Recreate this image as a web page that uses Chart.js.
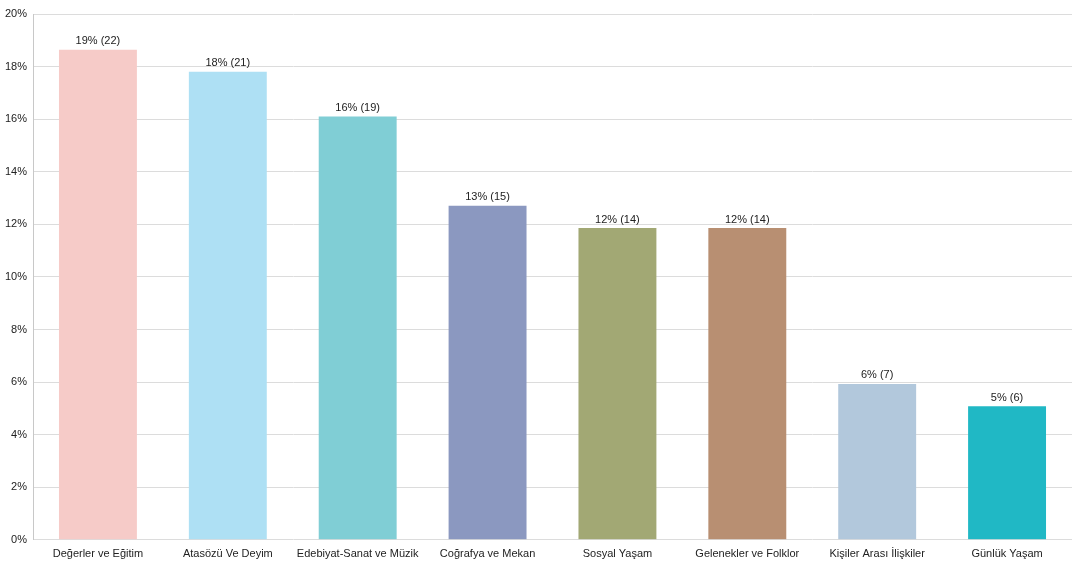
<!DOCTYPE html>
<html>
<head>
<meta charset="utf-8">
<script src="https://cdn.jsdelivr.net/npm/chart.js@4/dist/chart.umd.min.js"></script>
<style>
  html, body { margin: 0; padding: 0; background: #fff; }
  #wrap { width: 1077px; height: 571px; }
</style>
</head>
<body>
<div id="wrap"><canvas id="chart"></canvas></div>
<script>
// Data
const categories = ['Değerler ve Eğitim', 'Atasözü Ve Deyim', 'Edebiyat-Sanat ve Müzik', 'Coğrafya ve Mekan',
    'Sosyal Yaşam', 'Gelenekler ve Folklor', 'Kişiler Arası İlişkiler', 'Günlük Yaşam'];
const percents = [18.64, 17.80, 16.10, 12.71, 11.86, 11.86, 5.93, 5.08];
const counts = [22, 21, 19, 15, 14, 14, 7, 6];
const pctLabels = ['19%', '18%', '16%', '13%', '12%', '12%', '6%', '5%'];
const barColors = ['#F6CBC8', '#AEE0F4', '#80CED5', '#8B98C0', '#A2A874', '#B88F72', '#B2C8DC', '#20B8C5'];

// Value labels over each bar
const valueLabels = {
    id: 'valueLabels',
    afterDatasetsDraw(chart) {
        const ctx = chart.ctx;
        const meta = chart.getDatasetMeta(0);
        ctx.save();
        ctx.font = '11px "Liberation Sans", Arial, sans-serif';
        ctx.fillStyle = '#222';
        ctx.textAlign = 'center';
        ctx.textBaseline = 'bottom';
        meta.data.forEach((bar, i) => {
            ctx.fillText(`${pctLabels[i]} (${counts[i]})`, bar.x, bar.y - 3);
        });
        ctx.restore();
    }
};

Chart.defaults.font.family = '"Liberation Sans", Arial, sans-serif';
Chart.defaults.font.size = 11;
Chart.defaults.color = '#222';

new Chart(document.getElementById('chart'), {
    type: 'bar',
    data: {
        labels: categories,
        datasets: [{
            data: percents,
            backgroundColor: barColors,
            categoryPercentage: 1,
            barPercentage: 0.6
        }]
    },
    options: {
        responsive: true,
        maintainAspectRatio: false,
        animation: false,
        layout: { padding: { top: 14, right: 5, bottom: 10, left: 0 } },
        plugins: { legend: { display: false }, tooltip: { enabled: false } },
        scales: {
            x: {
                grid: { display: false },
                border: { display: false },
                ticks: { padding: 0, maxRotation: 0, autoSkip: false }
            },
            y: {
                min: 0,
                max: 20,
                afterFit(axis) { axis.width = 33; },
                ticks: { stepSize: 2, callback: v => v + '%', padding: 6 },
                grid: { color: '#dcdcdc', drawTicks: false },
                border: { color: '#c8c8c8' }
            }
        }
    },
    plugins: [valueLabels]
});
</script>
</body>
</html>
